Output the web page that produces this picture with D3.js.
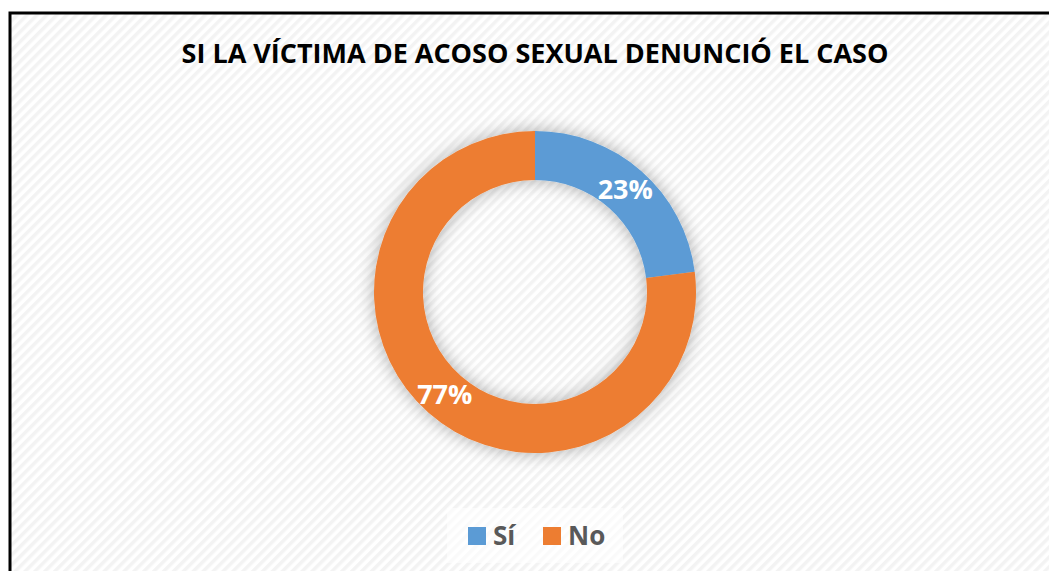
<!DOCTYPE html>
<html>
<head>
<meta charset="utf-8">
<script src="https://cdn.jsdelivr.net/npm/d3@7"></script>
<style>
  body { margin: 0; background: #fff; }
  svg { display: block; }
</style>
</head>
<body>
<svg id="chart" width="1049" height="571"></svg>
<script>
var title = 'SI LA VÍCTIMA DE ACOSO SEXUAL DENUNCIÓ EL CASO';
var categories = ['Sí', 'No'];
var values = [23, 77];
var colors = ['#5b9bd5', '#ed7d31'];

var width = 1049, height = 571;
var cx = 535, cy = 292, outerR = 161, innerR = 112;

var svg = d3.select('#chart');
var defs = svg.append('defs');

// diagonal hatch background
var pat = defs.append('pattern')
    .attr('id', 'hatch')
    .attr('patternUnits', 'userSpaceOnUse')
    .attr('width', 7).attr('height', 7)
    .attr('patternTransform', 'rotate(-45)');
pat.append('rect').attr('width', 7).attr('height', 7).attr('fill', '#ffffff');
pat.append('rect').attr('width', 7).attr('height', 3.5).attr('fill', '#f3f3f3');

var shadow = defs.append('filter')
    .attr('id', 'glow')
    .attr('x', '-30%').attr('y', '-30%')
    .attr('width', '160%').attr('height', '160%');
shadow.append('feGaussianBlur').attr('in', 'SourceAlpha').attr('stdDeviation', 9).attr('result', 'b');
shadow.append('feFlood').attr('flood-color', '#000').attr('flood-opacity', 0.32);
shadow.append('feComposite').attr('in2', 'b').attr('operator', 'in').attr('result', 's');
var merge = shadow.append('feMerge');
merge.append('feMergeNode').attr('in', 's');
merge.append('feMergeNode').attr('in', 'SourceGraphic');

// chart area with border
svg.append('rect')
    .attr('x', 10).attr('y', 13)
    .attr('width', width + 10).attr('height', height)
    .attr('fill', 'url(#hatch)')
    .attr('stroke', '#000')
    .attr('stroke-width', 3);

svg.append('text')
    .attr('x', cx).attr('y', 63)
    .attr('text-anchor', 'middle')
    .attr('font-family', 'Open Sans, sans-serif')
    .attr('font-weight', 'bold')
    .attr('font-size', 27)
    .attr('fill', '#000')
    .text(title);

var pie = d3.pie().sort(null).value(function (d) { return d; });
var arc = d3.arc().innerRadius(innerR).outerRadius(outerR);

var total = d3.sum(values);
var g = svg.append('g').attr('transform', 'translate(' + cx + ',' + cy + ')');

g.append('g').attr('filter', 'url(#glow)')
    .selectAll('path')
    .data(pie(values))
    .enter()
    .append('path')
    .attr('d', arc)
    .attr('fill', function (d, i) { return colors[i]; });

g.selectAll('text.lbl')
    .data(pie(values))
    .enter()
    .append('text')
    .attr('class', 'lbl')
    .attr('transform', function (d) { return 'translate(' + arc.centroid(d) + ')'; })
    .attr('dy', '0.36em')
    .attr('text-anchor', 'middle')
    .attr('font-family', 'Open Sans, sans-serif')
    .attr('font-weight', 'bold')
    .attr('font-size', 27)
    .attr('fill', '#fff')
    .text(function (d) { return Math.round(d.data / total * 100) + '%'; });

// legend
var legend = svg.append('g');
legend.append('rect')
    .attr('x', 447).attr('y', 508)
    .attr('width', 176).attr('height', 55)
    .attr('fill', '#fff').attr('fill-opacity', 0.6);

var legX = [468, 543];
var items = legend.selectAll('g.item')
    .data(categories)
    .enter()
    .append('g')
    .attr('class', 'item')
    .attr('transform', function (d, i) { return 'translate(' + legX[i] + ',527)'; });
items.append('rect')
    .attr('width', 18).attr('height', 18)
    .attr('fill', function (d, i) { return colors[i]; });
items.append('text')
    .attr('x', 25).attr('y', 9)
    .attr('dy', '0.36em')
    .attr('font-family', 'Open Sans, sans-serif')
    .attr('font-weight', 'bold')
    .attr('font-size', 26)
    .attr('fill', '#595959')
    .text(function (d) { return d; });
</script>
</body>
</html>
